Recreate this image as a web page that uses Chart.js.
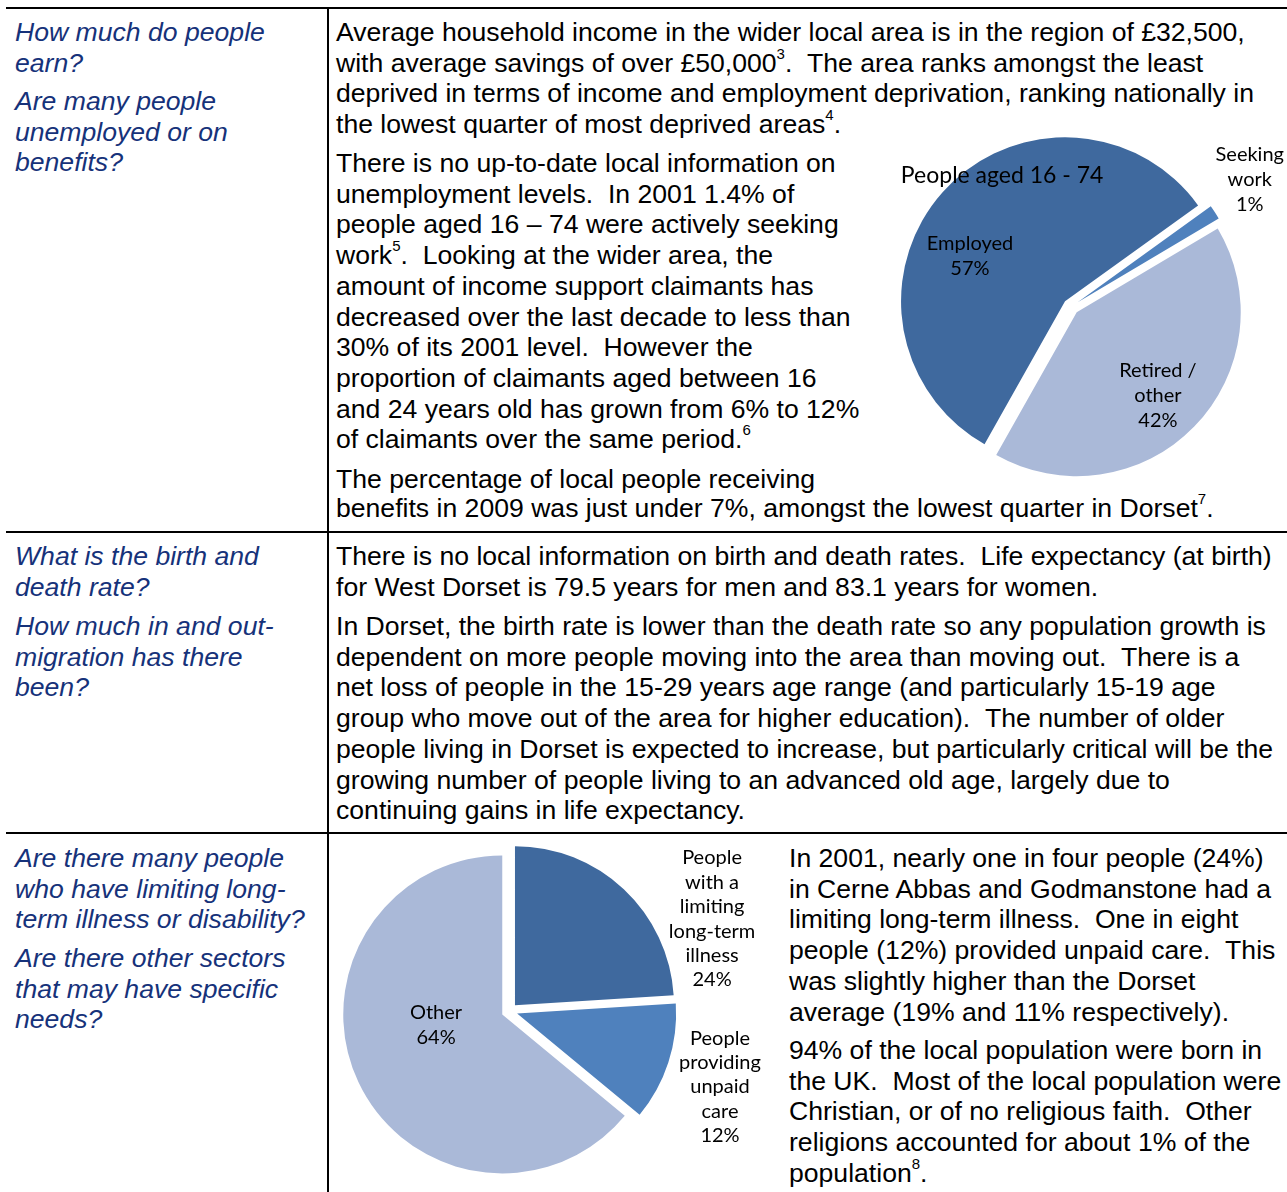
<!DOCTYPE html>
<html>
<head>
<meta charset="utf-8">
<script src="https://cdn.jsdelivr.net/npm/chart.js@4"></script>
<style>
  html, body { margin: 0; padding: 0; background: #fff; }
  body {
    width: 1287px; height: 1192px; position: relative; overflow: hidden;
    font-family: "Liberation Sans", Arial, sans-serif;
    font-size: 26.6px; line-height: 30.7px; color: #000;
  }
  .rule { position: absolute; background: #000; }
  .p { position: absolute; white-space: nowrap; }
  .q { color: #16327a; font-style: italic; left: 15px; }
  .r { left: 336px; }
  .r3 { left: 789px; }
  .tight { line-height: 29px; }
  sup { font-size: 15px; line-height: 0; vertical-align: 0; position: relative; top: -13px; }
  canvas { position: absolute; }
</style>
</head>
<body>

<div class="rule" style="left:6px; top:7px; width:1281px; height:2px"></div>
<div class="rule" style="left:327px; top:7px; width:2px; height:1185px"></div>
<div class="rule" style="left:6px; top:531px; width:1281px; height:2px"></div>
<div class="rule" style="left:6px; top:832px; width:1281px; height:2px"></div>

<!-- questions -->
<div class="p q" style="top:17px">How much do people<br>earn?</div>
<div class="p q" style="top:86px">Are many people<br>unemployed or on<br>benefits?</div>
<div class="p q" style="top:541px">What is the birth and<br>death rate?</div>
<div class="p q" style="top:611px">How much in and out-<br>migration has there<br>been?</div>
<div class="p q" style="top:843px">Are there many people<br>who have limiting long-<br>term illness or disability?</div>
<div class="p q" style="top:943px">Are there other sectors<br>that may have specific<br>needs?</div>

<!-- row 1 -->
<div class="p r" style="top:17px">Average household income in the wider local area is in the region of £32,500,<br>with average savings of over £50,000<sup>3</sup>. &nbsp;The area ranks amongst the least<br>deprived in terms of income and employment deprivation, ranking nationally in<br>the lowest quarter of most deprived areas<sup>4</sup>.</div>
<div class="p r" style="top:148px">There is no up-to-date local information on<br>unemployment levels. &nbsp;In 2001 1.4% of<br>people aged 16 – 74 were actively seeking<br>work<sup>5</sup>. &nbsp;Looking at the wider area, the<br>amount of income support claimants has<br>decreased over the last decade to less than<br>30% of its 2001 level. &nbsp;However the<br>proportion of claimants aged between 16<br>and 24 years old has grown from 6% to 12%<br>of claimants over the same period.<sup>6</sup></div>
<div class="p r tight" style="top:465px">The percentage of local people receiving<br>benefits in 2009 was just under 7%, amongst the lowest quarter in Dorset<sup>7</sup>.</div>

<!-- row 2 -->
<div class="p r" style="top:541px">There is no local information on birth and death rates. &nbsp;Life expectancy (at birth)<br>for West Dorset is 79.5 years for men and 83.1 years for women.</div>
<div class="p r" style="top:611px">In Dorset, the birth rate is lower than the death rate so any population growth is<br>dependent on more people moving into the area than moving out. &nbsp;There is a<br>net loss of people in the 15-29 years age range (and particularly 15-19 age<br>group who move out of the area for higher education). &nbsp;The number of older<br>people living in Dorset is expected to increase, but particularly critical will be the<br>growing number of people living to an advanced old age, largely due to<br>continuing gains in life expectancy.</div>

<!-- row 3 -->
<div class="p r3" style="top:843px">In 2001, nearly one in four people (24%)<br>in Cerne Abbas and Godmanstone had a<br>limiting long-term illness. &nbsp;One in eight<br>people (12%) provided unpaid care. &nbsp;This<br>was slightly higher than the Dorset<br>average (19% and 11% respectively).</div>
<div class="p r3" style="top:1035px">94% of the local population were born in<br>the UK. &nbsp;Most of the local population were<br>Christian, or of no religious faith. &nbsp;Other<br>religions accounted for about 1% of the<br>population<sup>8</sup>.</div>

<canvas id="workChart" width="407" height="360" style="left:880px; top:130px"></canvas>
<canvas id="careChart" width="440" height="350" style="left:335px; top:838px"></canvas>

<script>
// people aged 16 - 74
const workTitle = 'People aged 16 - 74';
const workLabels = ['Employed', 'Seeking work', 'Retired / other'];
const workValues = [56.9, 1.4, 41.7];

// limiting illness / unpaid care
const careLabels = ['People with a limiting long-term illness', 'People providing unpaid care', 'Other'];
const careValues = [24, 12, 64];

const dark = '#3f699e', mid = '#4f81bd', light = '#aab9d8';

const wrap = (ctx, text, maxWidth) => {
  const out = [];
  let line = '';
  for (const word of text.split(' ')) {
    const test = line ? line + ' ' + word : word;
    if (line && ctx.measureText(test).width > maxWidth) {
      out.push(line);
      line = word;
    } else {
      line = test;
    }
  }
  out.push(line);
  return out;
};

// pulls every slice out from the centre, like an exploded excel pie
const explode = {
  id: 'explode',
  beforeDatasetDraw(chart, args, opts) {
    const ctx = chart.ctx;
    for (const arc of args.meta.data) {
      const half = (arc.startAngle + arc.endAngle) / 2;
      ctx.save();
      ctx.translate(Math.cos(half) * opts.distance, Math.sin(half) * opts.distance);
      arc.draw(ctx);
      ctx.restore();
    }
    return false;
  }
};

const sliceLabels = {
  id: 'sliceLabels',
  afterDatasetsDraw(chart, args, opts) {
    const ctx = chart.ctx;
    const ds = chart.data.datasets[0];
    const total = ds.data.reduce((a, b) => a + b, 0);
    const arcs = chart.getDatasetMeta(0).data;
    ctx.save();
    ctx.fillStyle = '#000';
    ctx.textAlign = 'center';
    ctx.textBaseline = 'middle';
    ctx.font = '20px Lato';
    arcs.forEach((arc, i) => {
      const lines = wrap(ctx, chart.data.labels[i], opts.wrapWidth);
      lines.push(Math.round(ds.data[i] / total * 100) + '%');
      const [rx, ry] = opts.spots[i];
      const cx = arc.x + rx * arc.outerRadius;
      const cy = arc.y + ry * arc.outerRadius;
      const top = cy - (lines.length - 1) * opts.lineStep / 2;
      lines.forEach((t, k) => ctx.fillText(t, cx, top + k * opts.lineStep));
    });
    if (opts.title) {
      const arc = arcs[0];
      ctx.font = '23px Lato';
      ctx.fillText(opts.title, arc.x + opts.titleSpot[0] * arc.outerRadius, arc.y + opts.titleSpot[1] * arc.outerRadius);
    }
    ctx.restore();
  }
};

const makePie = (id, labels, values, colors, rotation, padding, labelOpts) => {
  return new Chart(document.getElementById(id), {
    type: 'pie',
    data: {
      labels: labels,
      datasets: [{
        data: values,
        backgroundColor: colors,
        borderWidth: 0
      }]
    },
    options: {
      responsive: false,
      animation: false,
      devicePixelRatio: 1,
      rotation: rotation,
      layout: { padding: padding },
      plugins: {
        legend: { display: false },
        tooltip: { enabled: false },
        explode: { distance: 8 },
        sliceLabels: labelOpts
      }
    },
    plugins: [explode, sliceLabels]
  });
};

makePie('workChart', workLabels, workValues, [dark, mid, light], -150.6,
  { left: 27, right: 52, top: 12.6, bottom: 19.4 },
  {
    wrapWidth: 90,
    lineStep: 25,
    spots: [[-0.616, -0.309], [1.09, -0.772], [0.53, 0.545]],
    title: workTitle,
    titleSpot: [-0.42, -0.8]
  });

makePie('careChart', careLabels, careValues, [dark, mid, light], 0,
  { left: 15.5, right: 106.5, top: 14, bottom: 18 },
  {
    wrapWidth: 90,
    lineStep: 24.4,
    spots: [[1.274, -0.579], [1.324, 0.478], [-0.462, 0.088]]
  });
</script>
</body>
</html>
